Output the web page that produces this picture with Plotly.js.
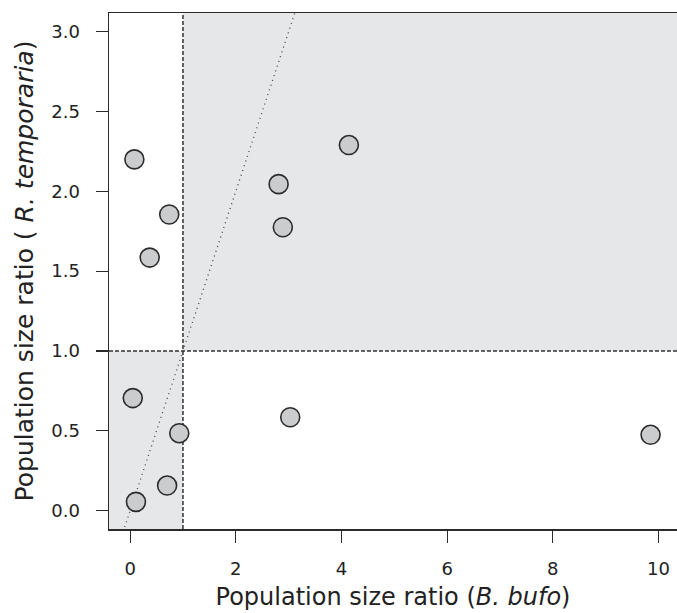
<!DOCTYPE html>
<html>
<head>
<meta charset="utf-8">
<script src="https://cdn.plot.ly/plotly-3.0.1.min.js"></script>
<style>html,body{margin:0;padding:0;background:#fff;}#chart{width:677px;height:613px;}</style>
</head>
<body>
<div id="chart"></div>
<script>
// Population size ratios (B. bufo on x, R. temporaria on y)
const bufoRatio = [0.08, 0.74, 0.37, 2.81, 2.89, 4.14, 0.05, 0.93, 3.03, 9.85, 0.70, 0.11];
const temporariaRatio = [2.20, 1.855, 1.585, 2.045, 1.775, 2.29, 0.705, 0.485, 0.585, 0.475, 0.157, 0.055];
const xRange = [-0.40, 10.35];
const yRange = [-0.115, 3.117];
const threshold = [1];
const xTicks = [0, 2, 4, 6, 8, 10];
const yTicks = [0.0, 0.5, 1.0, 1.5, 2.0, 2.5, 3.0];

const shade = '#e6e7e9';
const dark = '#2b2b2b';

const traces = [
  {
    x: [xRange[0], xRange[1]],
    y: [xRange[0], xRange[1]],
    mode: 'lines',
    line: {color: '#444', width: 1.3, dash: '1px,4px'},
    hoverinfo: 'skip',
    showlegend: false
  },
  {
    x: bufoRatio,
    y: temporariaRatio,
    mode: 'markers',
    marker: {size: 19, color: '#cbcccd', line: {color: dark, width: 1.6}},
    showlegend: false,
    cliponaxis: false
  }
];

const layout = {
  width: 677, height: 613,
  margin: {l: 109, r: 0, t: 13, b: 84},
  paper_bgcolor: '#fff', plot_bgcolor: '#fff',
  font: {family: 'DejaVu Sans, Liberation Sans, sans-serif', color: '#222', size: 18},
  xaxis: {
    range: xRange, tickvals: xTicks, ticktext: xTicks.map(String),
    showgrid: false, zeroline: false,
    showline: true, linecolor: dark, linewidth: 1.5, mirror: true,
    ticks: 'outside', ticklen: 12, tickwidth: 1.2, tickcolor: dark,
    ticklabelstandoff: 11,
    tickfont: {size: 18},
    title: {text: 'Population size ratio (<i>B. bufo</i>)', font: {size: 24}, standoff: 10}
  },
  yaxis: {
    range: yRange, tickvals: yTicks, ticktext: yTicks.map(v => v.toFixed(1)),
    showgrid: false, zeroline: false,
    showline: true, linecolor: dark, linewidth: 1.5,
    ticks: 'outside', ticklen: 12, tickwidth: 1.2, tickcolor: dark,
    ticklabelstandoff: 12,
    tickfont: {size: 18},
    title: {text: 'Population size ratio ( <i>R. temporaria</i>)', font: {size: 25}, standoff: 10}
  },
  shapes: [
    {type: 'rect', xref: 'x', yref: 'y', layer: 'below', x0: xRange[0], x1: threshold[0], y0: yRange[0], y1: threshold[0], fillcolor: shade, line: {width: 0}},
    {type: 'rect', xref: 'x', yref: 'y', layer: 'below', x0: threshold[0], x1: xRange[1], y0: threshold[0], y1: yRange[1], fillcolor: shade, line: {width: 0}},
    {type: 'line', xref: 'x', yref: 'y', layer: 'below', x0: threshold[0], x1: threshold[0], y0: yRange[0], y1: yRange[1], line: {color: '#333', width: 1.5, dash: '4px,2px'}},
    {type: 'line', xref: 'x', yref: 'y', layer: 'below', x0: xRange[0], x1: xRange[1], y0: threshold[0], y1: threshold[0], line: {color: '#333', width: 1.5, dash: '4px,2px'}}
  ]
};

Plotly.newPlot('chart', traces, layout, {displayModeBar: false, staticPlot: true});
</script>
</body>
</html>
